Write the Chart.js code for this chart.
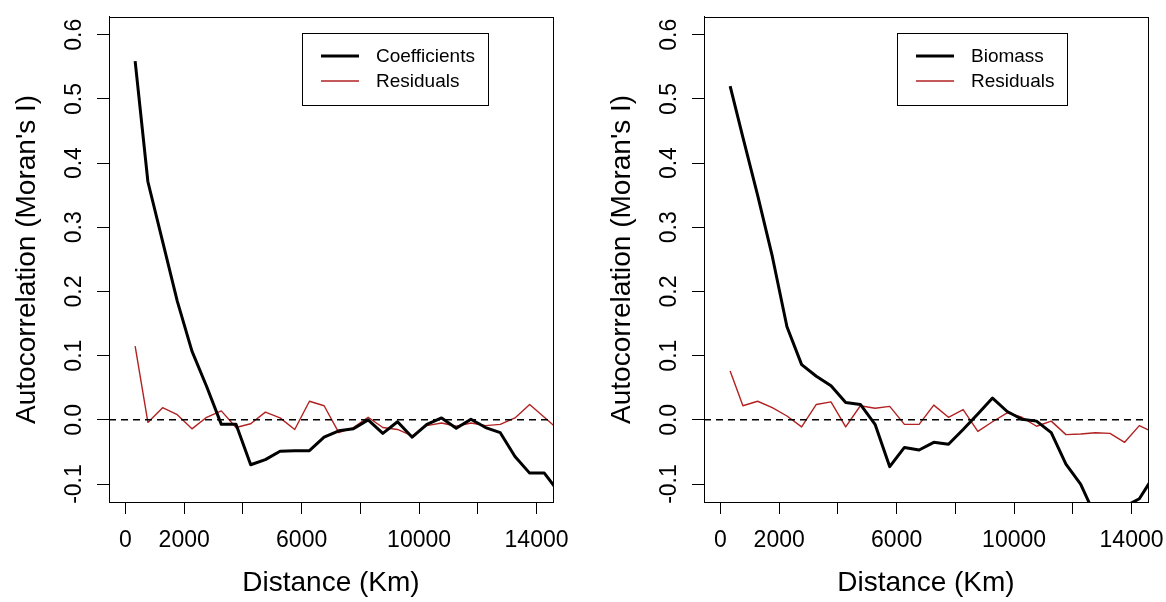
<!DOCTYPE html>
<html>
<head>
<meta charset="utf-8">
<title>Moran's I correlograms</title>
<script src="https://cdn.jsdelivr.net/npm/chart.js@4.4.1/dist/chart.umd.min.js"></script>
<style>
  html, body { margin: 0; padding: 0; background: #fff; overflow: hidden; width: 1166px; height: 602px; position: relative; }
  .panel { position: absolute; top: 0; height: 602px; width: 583px; }
  #left { left: 0; }
  #right { left: 595px; }
</style>
</head>
<body>
<div class="panel" id="left"><canvas id="leftChart" width="583" height="602"></canvas></div>
<div class="panel" id="right"><canvas id="rightChart" width="583" height="602"></canvas></div>

<script>
// ===================== DATA ===================== //
// distance classes (km), shared by both correlograms
const distKm = [330, 765, 1265, 1765, 2265, 2765, 3265, 3765, 4265, 4765,
                5265, 5765, 6265, 6765, 7265, 7765, 8265, 8765, 9265, 9765,
                10265, 10765, 11265, 11765, 12265, 12765, 13265, 13765, 14265, 14765];

// left panel
const coefficients = [0.559, 0.371, 0.278, 0.185, 0.107, 0.052, -0.007, -0.007, -0.070, -0.062,
                      -0.049, -0.048, -0.048, -0.027, -0.017, -0.014, 0.000, -0.021, -0.003, -0.027,
                      -0.007, 0.003, -0.013, 0.001, -0.012, -0.020, -0.057, -0.083, -0.083, -0.113];
const residualsLeft = [0.115, -0.004, 0.019, 0.008, -0.014, 0.004, 0.014, -0.012, -0.006, 0.012,
                       0.003, -0.015, 0.029, 0.022, -0.020, -0.012, 0.004, -0.012, -0.015, -0.025,
                       -0.009, -0.005, -0.010, -0.005, -0.009, -0.007, 0.003, 0.024, 0.004, -0.016];

// right panel
const biomass = [0.520, 0.440, 0.350, 0.255, 0.145, 0.086, 0.068, 0.053, 0.027, 0.024,
                 -0.007, -0.073, -0.043, -0.047, -0.035, -0.038, -0.015, 0.009, 0.034, 0.013,
                 0.001, -0.002, -0.020, -0.069, -0.100, -0.150, -0.155, -0.135, -0.123, -0.087];
const residualsRight = [0.076, 0.022, 0.029, 0.019, 0.006, -0.011, 0.024, 0.028, -0.011, 0.022,
                        0.018, 0.021, -0.007, -0.007, 0.023, 0.004, 0.016, -0.018, -0.003, 0.011,
                        0.004, -0.010, -0.002, -0.023, -0.022, -0.020, -0.021, -0.035, -0.009, -0.020];

// axes
const xTicks = [0, 2000, 4000, 6000, 8000, 10000, 12000, 14000];
const xTickLabels = [0, 2000, 6000, 10000, 14000];   // R drops the ones that would overlap
const yTicks = [-0.1, 0.0, 0.1, 0.2, 0.3, 0.4, 0.5, 0.6];

const FONT = '"Liberation Sans", Arial, sans-serif';
const RED = "#b22222";


// ===================== R-STYLE DECORATIONS ===================== //
const rStyle = {
    id: "rStyle",
    afterDatasetsDraw(chart) {
        const { ctx, chartArea: a, scales } = chart;
        const y0 = scales.y.getPixelForValue(0);

        // dashed zero line
        ctx.save();
        ctx.strokeStyle = "#000";
        ctx.lineWidth = 1.5;
        ctx.setLineDash([7, 5]);
        ctx.beginPath();
        ctx.moveTo(a.left, y0);
        ctx.lineTo(a.right, y0);
        ctx.stroke();
        ctx.restore();
    },
    afterDraw(chart) {
        const { ctx, chartArea: a } = chart;
        ctx.save();

        // box round the plot
        ctx.strokeStyle = "#000";
        ctx.lineWidth = 1;
        ctx.strokeRect(Math.round(a.left) + 0.5, Math.round(a.top) + 0.5,
                       Math.round(a.right - a.left), Math.round(a.bottom - a.top));

        // legend
        const sets = chart.data.datasets;
        ctx.font = "19px " + FONT;
        const textW = Math.max(...sets.map(d => ctx.measureText(d.label).width));
        const boxL = Math.round(a.left + 193);
        const boxT = 33;
        const textX = boxL + 74;
        const boxR = Math.round(textX + textW + 13);
        ctx.strokeRect(boxL + 0.5, boxT + 0.5, boxR - boxL, 72);

        ctx.textAlign = "left";
        ctx.textBaseline = "middle";
        sets.forEach((d, i) => {
            const y = boxT + 23 + i * 25;
            ctx.strokeStyle = d.borderColor;
            ctx.lineWidth = d.borderWidth;
            ctx.beginPath();
            ctx.moveTo(boxL + 19, y);
            ctx.lineTo(boxL + 57, y);
            ctx.stroke();
            ctx.fillStyle = "#000";
            ctx.fillText(d.label, textX, y + 1);
        });
        ctx.restore();
    }
};


// ===================== BUILD ONE PANEL ===================== //
function buildPanel(canvasId, mainLabel, mainValues, residValues) {
    const toPoints = vals => distKm.map((d, i) => ({ x: d, y: vals[i] }));

    return new Chart(document.getElementById(canvasId), {
        type: "line",
        data: {
            datasets: [
                {
                    label: mainLabel,
                    data: toPoints(mainValues),
                    borderColor: "#000",
                    borderWidth: 3,
                    pointRadius: 0,
                    tension: 0,
                    clip: 0,
                    borderJoinStyle: "round"
                },
                {
                    label: "Residuals",
                    data: toPoints(residValues),
                    borderColor: RED,
                    borderWidth: 1.4,
                    pointRadius: 0,
                    tension: 0,
                    clip: 0,
                    borderJoinStyle: "round"
                }
            ]
        },
        options: {
            responsive: false,
            animation: false,
            events: [],
            layout: { padding: { left: 0, top: 15, right: 30, bottom: 0 } },
            plugins: { legend: { display: false }, tooltip: { enabled: false } },
            scales: {
                x: {
                    type: "linear",
                    min: -560,
                    max: 14560,
                    afterBuildTicks: s => { s.ticks = xTicks.map(v => ({ value: v })); },
                    afterFit: s => { s.height = 100; },
                    ticks: {
                        autoSkip: false,
                        maxRotation: 0,
                        padding: 13,
                        color: "#000",
                        font: { family: FONT, size: 23 },
                        callback: v => xTickLabels.includes(v) ? String(v) : ""
                    },
                    grid: { drawOnChartArea: false, drawTicks: true, tickLength: 12, color: "#000", lineWidth: 1 },
                    border: { display: true, color: "#000", width: 1 },
                    title: {
                        display: true,
                        text: "Distance (Km)",
                        color: "#000",
                        font: { family: FONT, size: 28 },
                        padding: { top: 0, bottom: 2 }
                    }
                },
                y: {
                    type: "linear",
                    min: -0.128,
                    max: 0.628,
                    afterBuildTicks: s => { s.ticks = yTicks.map(v => ({ value: v })); },
                    afterFit: s => { s.width = 109; },
                    ticks: {
                        minRotation: 90,
                        maxRotation: 90,
                        crossAlign: "center",
                        padding: 3,
                        color: "#000",
                        font: { family: FONT, size: 23 },
                        callback: v => v.toFixed(1)
                    },
                    grid: { drawOnChartArea: false, drawTicks: true, tickLength: 12, color: "#000", lineWidth: 1 },
                    border: { display: true, color: "#000", width: 1 },
                    title: {
                        display: true,
                        text: "Autocorrelation (Moran's I)",
                        color: "#000",
                        font: { family: FONT, size: 28 },
                        padding: { top: 10, bottom: 0 }
                    }
                }
            }
        },
        plugins: [rStyle]
    });
}

buildPanel("leftChart", "Coefficients", coefficients, residualsLeft);
buildPanel("rightChart", "Biomass", biomass, residualsRight);
</script>
</body>
</html>
